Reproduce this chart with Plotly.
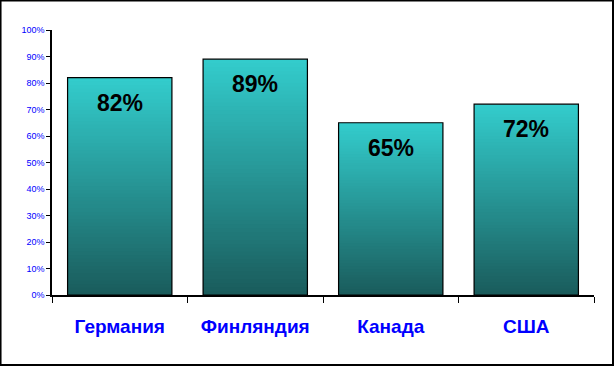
import plotly.graph_objects as go

categories = ["Германия", "Финляндия", "Канада", "США"]
values = [0.82, 0.89, 0.65, 0.72]
labels = ["82%", "89%", "65%", "72%"]

TOP = (51, 204, 204)
BOTTOM = (26, 92, 92)
N = 60

fig = go.Figure()
for i in range(N):
    f = i / (N - 1)
    c = tuple(round(TOP[k] + (BOTTOM[k] - TOP[k]) * f) for k in range(3))
    fig.add_trace(go.Bar(
        x=categories, y=[v * (N - i) / N for v in values],
        marker=dict(color=f"rgb{c}", line=dict(width=0)),
        hoverinfo="skip", showlegend=False,
    ))
fig.add_trace(go.Bar(
    x=categories, y=values,
    marker=dict(color="rgba(0,0,0,0)", line=dict(color="black", width=1.2)),
    showlegend=False,
))

for c, v, t in zip(categories, values, labels):
    fig.add_annotation(x=c, y=v, text=f"<b>{t}</b>", showarrow=False, yanchor="middle",
                       yshift=-25,
                       font=dict(family="Liberation Sans, Arial", size=23, color="black"))

fig.update_layout(
    barmode="overlay", bargap=0.23,
    width=614, height=366,
    margin=dict(l=52, r=20, t=30, b=71),
    paper_bgcolor="white", plot_bgcolor="white",
    font=dict(family="Liberation Sans, Arial"),
    xaxis=dict(
        showline=True, linecolor="black", linewidth=1.5,
        ticks="outside", tickson="boundaries", ticklen=6, tickcolor="black",
        tickfont=dict(size=19, color="#0000FF", family="Liberation Sans, Arial", weight="bold"),
        ticklabelstandoff=13,
        showgrid=False, zeroline=False,
    ),
    yaxis=dict(
        range=[0, 1], dtick=0.1, tickformat=".0%",
        showline=True, linecolor="black", linewidth=1.5,
        ticks="outside", ticklen=4, tickcolor="black",
        tickfont=dict(size=9, color="#0000FF", family="Liberation Sans, Arial"),
        showgrid=False, zeroline=False,
    ),
    shapes=[dict(type="rect", xref="paper", yref="paper",
                 x0=-52 / 542 + 0.001, x1=1 + 19 / 542, y0=-70 / 265, y1=1 + 29.5 / 265,
                 line=dict(color="black", width=2), layer="above")],
)

fig.write_html("out.html")
